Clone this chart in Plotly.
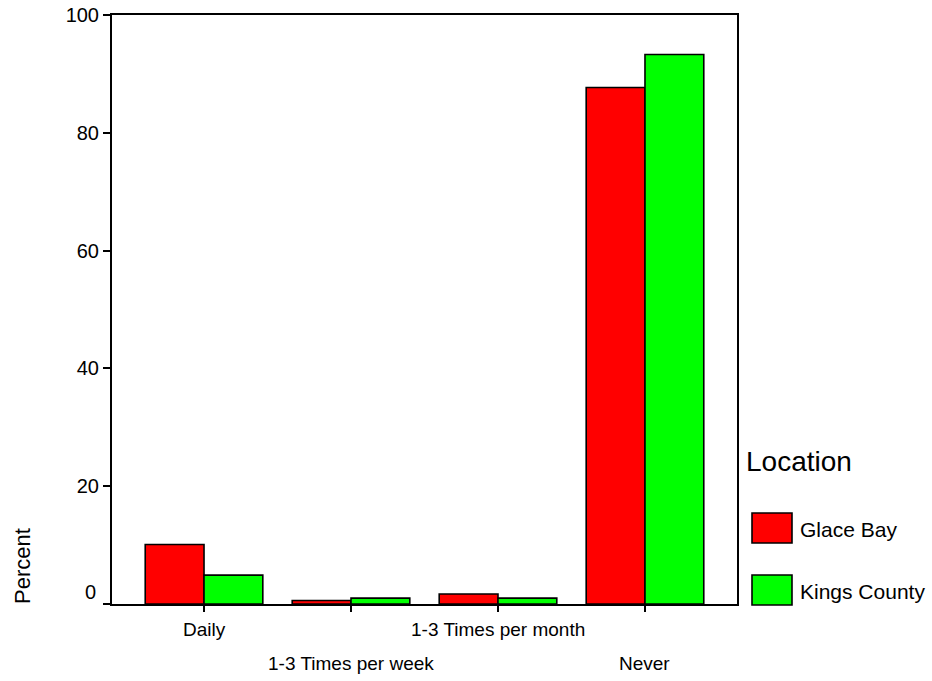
import plotly.graph_objects as go

categories = ["Daily", "1-3 Times per week", "1-3 Times per month", "Never"]
series_names = ["Glace Bay", "Kings County"]
glace_bay = [10.1, 0.6, 1.7, 87.7]
kings_county = [4.9, 1.0, 1.0, 93.3]
y_ticks = [0, 20, 40, 60, 80, 100]
y_ticklabels = ["", "20", "40", "60", "80", "100"]
colors = ["#FF0000", "#00FF00"]

W, H = 932, 681
L, R, T, B = 112, 737, 15, 604
PW, PH = R - L, B - T


def px(x):
    return (x - L) / PW


def py(y):
    return (B - y) / PH


fig = go.Figure()
for name, vals, col in zip(series_names, [glace_bay, kings_county], colors):
    fig.add_trace(go.Bar(
        x=categories, y=vals, name=name,
        marker=dict(color=col, line=dict(color="black", width=1.6)),
        showlegend=False,
    ))

font = "Liberation Sans, Arial, sans-serif"
fig.update_layout(
    width=W, height=H,
    margin=dict(l=L, r=W - R, t=T, b=H - B),
    paper_bgcolor="white", plot_bgcolor="white",
    barmode="group", bargap=0.2, bargroupgap=0,
    font=dict(family=font, color="black", size=20),
)
fig.update_xaxes(
    type="category", range=[-0.626, 3.626], automargin=False,
    showline=True, linecolor="black", linewidth=2, mirror=True,
    ticks="outside", ticklen=6, tickwidth=1.5, tickcolor="black",
    showticklabels=False, showgrid=False, zeroline=False,
)
fig.update_yaxes(
    range=[0, 100], tickvals=y_ticks, ticktext=y_ticklabels, automargin=False,
    showline=True, linecolor="black", linewidth=2, mirror=True,
    ticks="outside", ticklen=7, tickwidth=1.5, tickcolor="black",
    tickfont=dict(size=20), showgrid=False, zeroline=False,
)

# extend x axis line slightly left of y axis (as in reference)
fig.add_shape(type="line", xref="paper", yref="paper",
              x0=px(105), x1=px(L), y0=0, y1=0,
              line=dict(color="black", width=2))

# "0" label drawn slightly above the axis, as in the reference
fig.add_annotation(x=px(98), y=py(592), xref="paper", yref="paper",
                   text=str(y_ticks[0]), showarrow=False, xanchor="right",
                   yanchor="middle", font=dict(size=20))

# staggered category labels
for i, c in enumerate(categories):
    fig.add_annotation(x=c, xref="x", y=0, yref="paper",
                       text=c, showarrow=False, yanchor="middle",
                       yshift=-25 if i % 2 == 0 else -59,
                       font=dict(size=19))

# y axis title
fig.add_annotation(x=px(22), y=py(566), xref="paper", yref="paper",
                   text="Percent", textangle=-90, showarrow=False,
                   xanchor="center", yanchor="middle", font=dict(size=22))

# legend
fig.add_annotation(x=px(744), y=py(462), xref="paper", yref="paper",
                   text="Location", showarrow=False, xanchor="left",
                   yanchor="middle", font=dict(size=28))
box_tops = [513, 575]
for name, col, top in zip(series_names, colors, box_tops):
    fig.add_shape(type="rect", xref="paper", yref="paper",
                  x0=px(752), x1=px(792), y0=py(top + 30), y1=py(top),
                  fillcolor=col, line=dict(color="black", width=1.6))
    fig.add_annotation(x=px(798), y=py(top + 16), xref="paper", yref="paper",
                       text=name, showarrow=False, xanchor="left",
                       yanchor="middle", font=dict(size=21))

fig.write_html("out.html", config={"displayModeBar": False},
               post_script="document.body.style.margin='0';")
